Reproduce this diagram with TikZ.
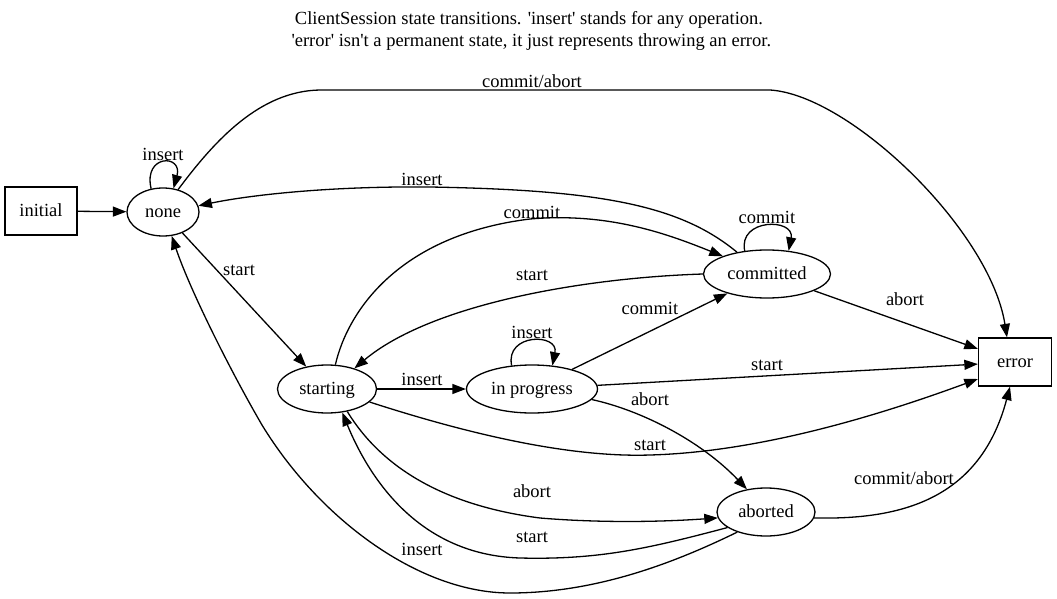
\documentclass[tikz,border=0pt]{standalone}
\usepackage{fontspec}
\setmainfont{Liberation Serif}[Ligatures=TeXOff]
\usetikzlibrary{arrows.meta,shapes.geometric}
\begin{document}
\begin{tikzpicture}[x=1pt,y=-1pt,
  txt/.style={font=\fontsize{18.5}{21.5}\selectfont},
  st/.style={txt, draw, ellipse, line width=1.3pt, minimum height=48pt, inner sep=0pt, text height=11pt, text depth=0pt},
  box/.style={txt, draw, rectangle, line width=1.3pt, minimum width=72pt, minimum height=48pt, inner sep=0pt, text height=11pt, text depth=0pt},
  lab/.style={txt, inner sep=0pt, text height=11pt, text depth=0pt},
  edge/.style={line width=1.3pt, -{Triangle[length=13.5pt,width=10pt]}}
]
\useasboundingbox (0,0) rectangle (1057,599);
\node[txt, align=center, inner sep=0pt] (title) at (529,31) {ClientSession state transitions. 'insert' stands for any operation.\\~'error' isn't a permanent state, it just represents throwing an error.};

\node[box] (initial) at (41,211) {initial};
\node[st, minimum width=72pt] (none) at (163,212) {none};
\node[st, minimum width=99pt] (starting) at (327,389) {starting};
\node[st, minimum width=131pt] (inprog) at (532,389) {in progress};
\node[st, minimum width=127pt] (committed) at (767,274) {committed};
\node[st, minimum width=98pt] (aborted) at (766,512) {aborted};
\node[box, minimum width=73pt] (error) at (1015,362) {error};

% initial -> none
\draw[edge] (initial) -- (none);
% none self loop
\draw[edge] (none.117) .. controls (143,154) and (183,154) .. (none.66);
\node[lab] (l1) at (163,155) {insert};
% none -> error
\draw[edge] (none.56) .. controls (215,140) and (260,91) .. (320,90) -- (770,90) .. controls (850,95) and (990,230) .. ([xshift=-8pt]error.north);
\node[lab] (l2) at (532,82) {commit/abort};
% committed -> none
\draw[edge] (committed.144) .. controls (680,205) and (600,190) .. (430,187) .. controls (330,186) and (250,195) .. (none.10);
\node[lab] (l3) at (422,180) {insert};
% starting -> committed
\draw[edge] (starting.71) .. controls (348,310) and (400,235) .. (530,219) .. controls (610,212) and (670,235) .. (committed.158);
\node[lab] (l4) at (532,213) {commit};
% committed self loop
\draw[edge] (committed.134) .. controls (738,218) and (795,218) .. (committed.47);
\node[lab] (l5) at (767,218) {commit};
% committed -> starting
\draw[edge] (committed.west) .. controls (580,278) and (430,305) .. (starting.37);
\node[lab] (l6) at (532,275) {start};
% none -> starting
\draw[edge] (none) -- (starting);
\node[lab] (l7) at (239,270) {start};
% starting -> in progress
\draw[edge] (starting) -- (inprog);
\node[lab] (l8) at (422,380) {insert};
% in progress self loop
\draw[edge] (inprog.131) .. controls (505,333) and (559,333) .. (inprog.49);
\node[lab] (l9) at (532,333) {insert};
% in progress -> committed
\draw[edge] (inprog) -- (committed);
\node[lab] (l10) at (650,309) {commit};
% committed -> error
\draw[edge] (committed) -- (error);
\node[lab] (l11) at (905,300) {abort};
% in progress -> error
\draw[edge] (inprog) -- (error);
\node[lab] (l12) at (767,365) {start};
% in progress -> aborted
\draw[edge] (inprog.-10) .. controls (640,410) and (700,440) .. (aborted.130);
\node[lab] (l13) at (650,400) {abort};
% starting -> error
\draw[edge] (starting.-17) .. controls (450,428) and (560,458) .. (650,455) .. controls (760,452) and (880,415) .. ([yshift=-17pt]error.west);
\node[lab] (l14) at (650,445) {start};
% starting -> aborted
\draw[edge] (starting.-48) .. controls (380,465) and (440,505) .. (540,518) .. controls (600,523) and (660,522) .. (aborted.187);
\node[lab] (l15) at (532,492) {abort};
% aborted -> starting
\draw[edge] (aborted.-158) .. controls (650,548) and (600,560) .. (520,558) .. controls (420,555) and (370,480) .. (starting.-57);
\node[lab] (l16) at (532,537) {start};
% aborted -> none
\draw[edge] (aborted.-145) .. controls (680,560) and (600,593) .. (510,593) .. controls (420,593) and (320,520) .. (262,425) .. controls (230,370) and (190,290) .. (none.-70);
\node[lab] (l17) at (422,550) {insert};
% aborted -> error
\draw[edge] (aborted.-7) .. controls (900,520) and (980,500) .. ([xshift=-5pt]error.south);
\node[lab] (l18) at (904,479) {commit/abort};
\end{tikzpicture}
\end{document}
